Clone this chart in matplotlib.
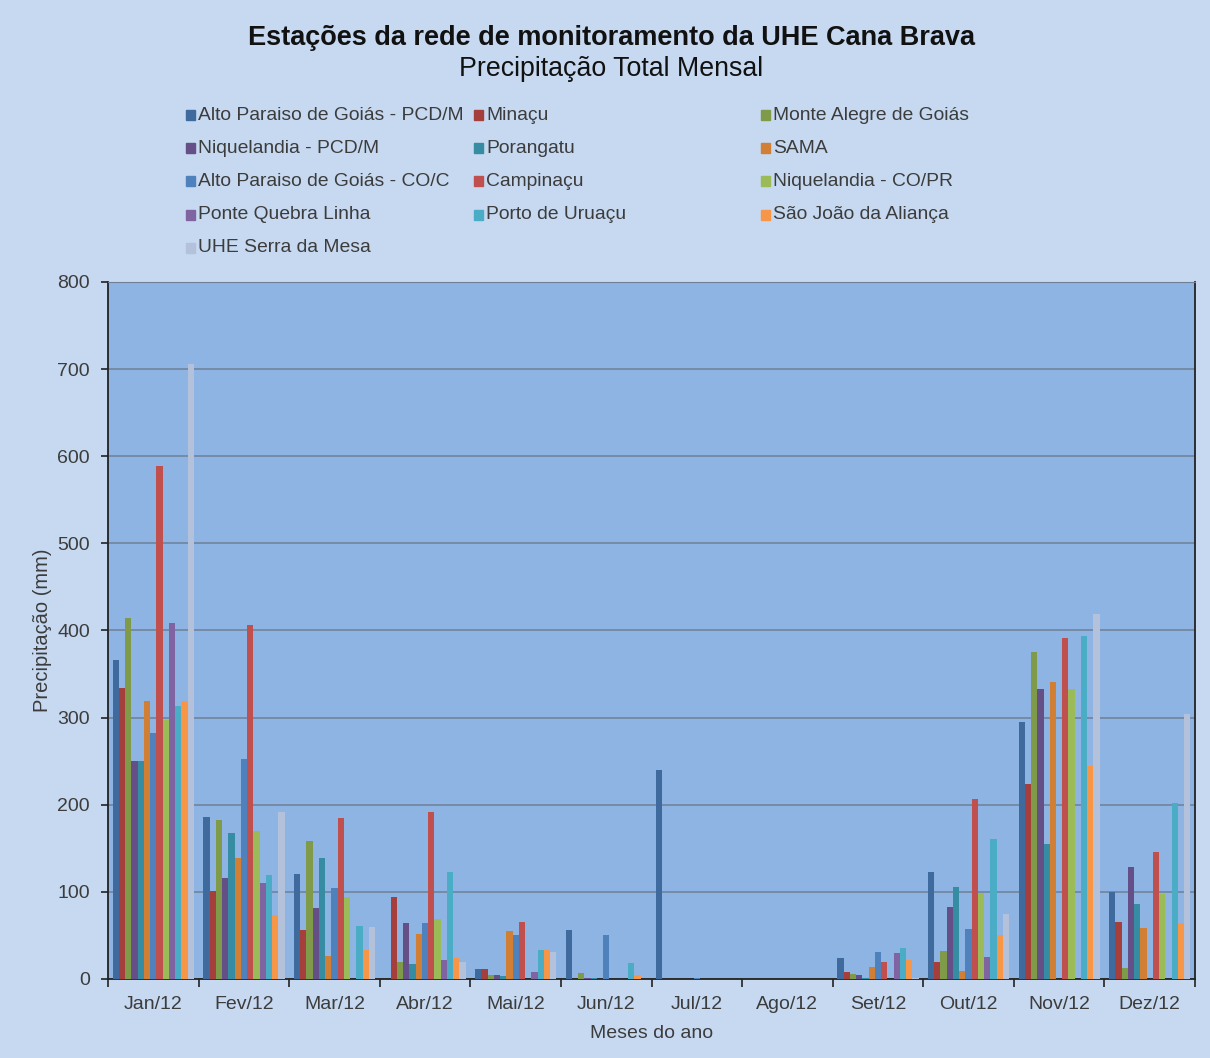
import matplotlib.pyplot as plt
import numpy as np
from matplotlib.patches import Rectangle

plt.rcParams['font.family'] = ['Liberation Sans', 'DejaVu Sans']

meses = ['Jan/12', 'Fev/12', 'Mar/12', 'Abr/12', 'Mai/12', 'Jun/12',
         'Jul/12', 'Ago/12', 'Set/12', 'Out/12', 'Nov/12', 'Dez/12']

estacoes = ['Alto Paraiso de Goiás - PCD/M', 'Minaçu', 'Monte Alegre de Goiás',
            'Niquelandia - PCD/M', 'Porangatu', 'SAMA',
            'Alto Paraiso de Goiás - CO/C', 'Campinaçu', 'Niquelandia - CO/PR',
            'Ponte Quebra Linha', 'Porto de Uruaçu', 'São João da Aliança',
            'UHE Serra da Mesa']

# valores mensais (mm) por estacao
alto_pcd = [366, 186, 121, 0, 12, 56, 240, 0, 24, 123, 295, 100]
minacu = [334, 101, 56, 94, 12, 0, 0, 0, 8, 19, 224, 65]
monte_alegre = [414, 182, 158, 19, 5, 7, 0, 0, 6, 32, 375, 13]
niq_pcd = [250, 116, 82, 64, 5, 1.5, 0, 0, 5, 83, 333, 129]
porangatu = [250, 167, 139, 17, 3, 1, 0, 0, 1, 105, 155, 86]
sama = [319, 139, 26, 52, 55, 0, 0, 0, 14, 9, 341, 58]
alto_coc = [282, 252, 104, 64, 50, 51, 1, 0, 31, 57, 0, 0]
campinacu = [589, 406, 185, 192, 65, 0, 0, 0, 20, 206, 391, 146]
niq_copr = [297, 170, 94, 69, 0, 0, 0, 0, 0, 99, 333, 97]
ponte = [409, 110, 0, 22, 8, 0, 0, 0, 30, 25, 0, 0]
porto = [313, 119, 61, 123, 33, 18, 0, 0, 35, 161, 394, 202]
sao_joao = [319, 73, 33, 24, 33, 4, 0, 0, 22, 51, 245, 64]
uhe_serra = [706, 192, 60, 20, 31, 0, 0, 0, 1, 74, 419, 304]

series = [alto_pcd, minacu, monte_alegre, niq_pcd, porangatu, sama,
          alto_coc, campinacu, niq_copr, ponte, porto, sao_joao, uhe_serra]

cores = ['#3F6A9E', '#A43F3C', '#7F9B4A', '#654F87', '#358CA3', '#D17F35',
         '#4F81BD', '#C0504D', '#9BBB59', '#8064A2', '#4BACC6', '#F79646',
         '#B4C1DA']

txt = '#3C3C3C'

fig = plt.figure(figsize=(12.1, 10.58), dpi=100)
fig.patch.set_facecolor('#C6D9F1')
ax = fig.add_axes([0.0893, 0.0747, 0.8983, 0.6588])
ax.set_facecolor('#8DB4E2')

n = len(series)
w = 1 / (n + 1.5)
x = np.arange(len(meses))
for i, (vals, cor) in enumerate(zip(series, cores)):
    v = np.array(vals, dtype=float)
    v[v == 0] = np.nan  # sem barra quando nao ha chuva
    ax.bar(x - n * w / 2 + (i + 0.5) * w, v, width=w, color=cor, linewidth=0, zorder=3)

ax.set_xlim(-0.5, len(meses) - 0.5)
ax.set_ylim(0, 800)
ax.set_yticks(range(0, 801, 100))
ax.yaxis.grid(True, color='#6F7F96', lw=1.1, zorder=1)
ax.set_xticks(x)
ax.set_xticklabels(meses, fontsize=14, color=txt)
ax.set_xticks(np.arange(-0.5, len(meses)), minor=True)
ax.tick_params(axis='x', which='major', length=0, pad=12)
ax.tick_params(axis='x', which='minor', length=6, width=1.2, color='#222222')
ax.tick_params(axis='y', labelsize=14, labelcolor=txt, length=5,
               width=1.2, color='#222222', pad=8)
for s in ['left', 'bottom', 'right']:
    ax.spines[s].set_color('#222222')
    ax.spines[s].set_linewidth(1.3)
ax.spines['top'].set_color('#6F7F96')

ax.set_xlabel('Meses do ano', fontsize=14, color=txt, labelpad=9)
ax.set_ylabel('Precipitação (mm)', fontsize=14.5, color=txt, labelpad=4)

fig.text(0.505, 0.964, 'Estações da rede de monitoramento da UHE Cana Brava',
         ha='center', va='center', fontsize=19.5, fontweight='bold', color='#111111')
fig.text(0.505, 0.935, 'Precipitação Total Mensal', ha='center', va='center',
         fontsize=19.3, color='#111111')

# legenda preenchida por linhas, 3 colunas
col_x = [186, 474, 761]
for k, (nome, cor) in enumerate(zip(estacoes, cores)):
    lin, col = divmod(k, 3)
    px = col_x[col]
    py = 115 + lin * 33.2
    fig.patches.append(Rectangle((px / 1210, 1 - (py + 5) / 1058), 9 / 1210, 10 / 1058,
                                 transform=fig.transFigure, color=cor))
    fig.text((px + 12) / 1210, 1 - py / 1058, nome, ha='left', va='center',
             fontsize=13.9, color=txt)

fig.savefig('out.png', dpi=100, facecolor=fig.get_facecolor())
